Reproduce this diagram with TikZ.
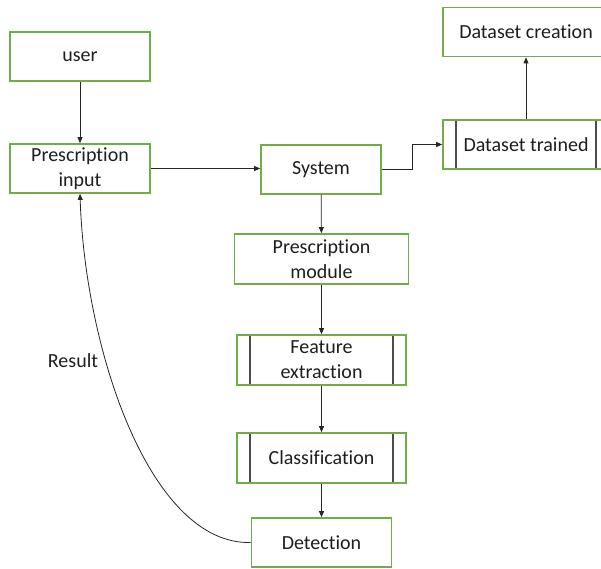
\documentclass[tikz,border=0pt]{standalone}
\usepackage{fontspec}
\setmainfont{Carlito}[Ligatures=NoCommon]
\usetikzlibrary{arrows.meta}
\definecolor{boxgreen}{RGB}{112,173,71}
\definecolor{txt}{RGB}{30,30,30}
\tikzset{
  box/.style={draw=boxgreen, line width=1.7pt, fill=white, minimum width=#1, minimum height=49pt, inner sep=1pt, align=center, text=txt, font=\fontsize{20}{25}\selectfont},
  box/.default=140pt,
  predproc/.style={path picture={
     \draw[line width=1.4pt, black!70] ([xshift=13pt]path picture bounding box.north west) -- ([xshift=13pt]path picture bounding box.south west);
     \draw[line width=1.4pt, black!70] ([xshift=-13pt]path picture bounding box.north east) -- ([xshift=-13pt]path picture bounding box.south east);}},
  conn/.style={draw=black!85, line width=0.8pt, -{Triangle[length=6pt,width=5pt]}}
}
\begin{document}
\begin{tikzpicture}[x=1pt,y=-1pt]
\useasboundingbox (0,0) rectangle (601,568);
\node[box] (user) at (80,56.5) {user};
\node[box] (pin) at (80,168.5) {Prescription\\input};
\node[box=120pt] (sys) at (321,169.5) {System};
\node[box=166pt, predproc] (dt) at (526,144.5) {Dataset trained};
\node[box=166pt] (dc) at (526,32) {Dataset creation};
\node[box=174pt, minimum height=50pt] (pm) at (321.5,259) {Prescription\\module};
\node[box=169pt, minimum height=50pt, predproc] (fe) at (321.5,360) {Feature\\extraction};
\node[box=169pt, minimum height=50pt, predproc] (cl) at (321.5,458) {Classification};
\node[box] (det) at (321.5,542.5) {Detection};
\node[text=txt, font=\fontsize{20}{25}\selectfont] (res) at (73,361) {Result};

\draw[conn] (user) -- (pin);
\draw[conn] (pin.east) -- (sys.west |- pin.east);
\draw[conn] (sys.east) -- ++(31,0) |- (dt.west);
\draw[conn] (dt.north) -- (dt.north |- dc.south);
\draw[conn] (sys) -- (pm);
\draw[conn] (pm) -- (fe);
\draw[conn] (fe) -- (cl);
\draw[conn] (cl) -- (det);
\draw[conn] (det.west) .. controls (150,545) and (85,350) .. (pin.south);
\end{tikzpicture}
\end{document}
